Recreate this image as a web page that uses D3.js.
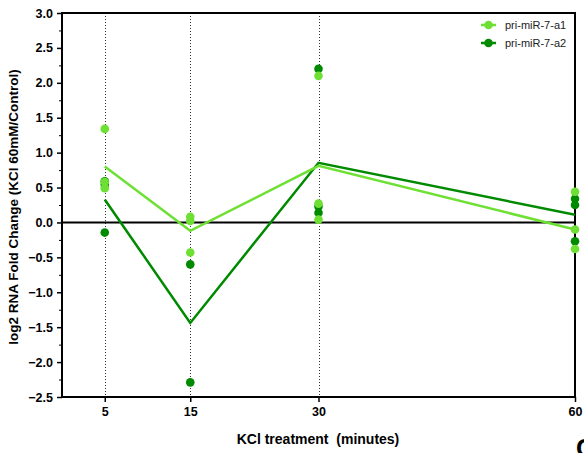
<!DOCTYPE html>
<html><head><meta charset="utf-8">
<script src="https://cdn.jsdelivr.net/npm/d3@7"></script>
<style>body{margin:0;background:#fff;} text{font-family:Arial,"Liberation Sans",sans-serif;}</style>
</head><body>
<svg id="c" width="584" height="453"></svg>
<script>
const timepoints = [5, 15, 30, 60];
const seriesNames = ["pri-miR-7-a1", "pri-miR-7-a2"];
const a1Reps = [[1.34, 0.58, 0.49], [0.08, 0.02, -0.43], [2.10, 0.27, 0.04], [0.44, -0.10, -0.38]];
const a2Reps = [[0.59, 0.54, -0.145], [-0.60, -2.29], [2.20, 0.23, 0.14], [0.34, 0.25, -0.27]];
const a1Mean = [0.80, -0.12, 0.81, -0.10];
const a2Mean = [0.33, -1.44, 0.855, 0.11];
const yTicks = [-2.5, -2.0, -1.5, -1.0, -0.5, 0.0, 0.5, 1.0, 1.5, 2.0, 2.5, 3.0];
const colors = ["#6ee034", "#008a00"];

const svg = d3.select("#c");
const L = 62, R = 575, T = 13, B = 397;
const x = d3.scaleLinear().domain([0, 60]).range([L, R]);
const y = d3.scaleLinear().domain([-2.5, 3]).range([B, T]);

// dotted verticals
svg.selectAll("line.vd").data(timepoints.slice(0, 3)).enter().append("line")
  .attr("x1", d => Math.round(x(d)) + 0.5).attr("x2", d => Math.round(x(d)) + 0.5)
  .attr("y1", T).attr("y2", B)
  .attr("stroke", "#333").attr("stroke-width", 1).attr("stroke-dasharray", "1,2");

// frame top and right
svg.append("line").attr("x1", L).attr("x2", R + 1).attr("y1", T).attr("y2", T).attr("stroke", "#000").attr("stroke-width", 2);
svg.append("line").attr("x1", R).attr("x2", R).attr("y1", T).attr("y2", B).attr("stroke", "#000").attr("stroke-width", 2);

// zero line
svg.append("line").attr("x1", L).attr("x2", R).attr("y1", y(0)).attr("y2", y(0)).attr("stroke", "#000").attr("stroke-width", 2);

// y axis
const yAxis = svg.append("g").attr("transform", `translate(${L},0)`)
  .call(d3.axisLeft(y).tickValues(yTicks).tickFormat(d3.format(".1f")).tickSize(5).tickSizeOuter(0));
const minor = d3.range(-2.25, 3, 0.5);
svg.append("g").attr("transform", `translate(${L},0)`)
  .call(d3.axisLeft(y).tickValues(minor).tickFormat("").tickSize(3).tickSizeOuter(0))
  .select(".domain").remove();
yAxis.select(".domain").attr("stroke-width", 2).attr("d", `M0,${T-1}V${B+1}`);
yAxis.selectAll(".tick line").attr("stroke-width", 1.5);
yAxis.selectAll("text").attr("font-size", 12.5).attr("font-weight", "bold").attr("fill", "#000").attr("dx", "-1px");

// x axis
const xAxis = svg.append("g").attr("transform", `translate(0,${B})`)
  .call(d3.axisBottom(x).tickValues(timepoints).tickSize(5).tickSizeOuter(0));
xAxis.select(".domain").attr("stroke-width", 2).attr("d", `M${L-1},0H${R+1}`);
xAxis.selectAll(".tick line").attr("stroke-width", 1.5);
xAxis.selectAll("text").attr("font-size", 12.5).attr("font-weight", "bold").attr("fill", "#000").attr("dy", "0.9em");

// series
const series = [
  {name: seriesNames[1], reps: a2Reps, mean: a2Mean, color: colors[1]},
  {name: seriesNames[0], reps: a1Reps, mean: a1Mean, color: colors[0]}
];
const line = d3.line().x((d, i) => x(timepoints[i])).y(d => y(d));
series.forEach(s => {
  svg.append("path").datum(s.mean).attr("d", line).attr("fill", "none")
    .attr("stroke", s.color).attr("stroke-width", 2.5);
});
series.forEach(s => {
  const pts = [];
  s.reps.forEach((arr, i) => arr.forEach(v => pts.push({t: timepoints[i], v})));
  svg.selectAll(null).data(pts).enter().append("circle")
    .attr("cx", d => x(d.t)).attr("cy", d => y(d.v)).attr("r", 4.3).attr("fill", s.color);
});

// legend
const leg = svg.append("g");
seriesNames.forEach((n, i) => {
  const yy = 25 + i * 18;
  leg.append("line").attr("x1", 481).attr("x2", 496).attr("y1", yy).attr("y2", yy).attr("stroke", colors[i]).attr("stroke-width", 2.5);
  leg.append("circle").attr("cx", 488.5).attr("cy", yy).attr("r", 4.3).attr("fill", colors[i]);
  leg.append("text").attr("x", 505).attr("y", yy + 4).attr("font-size", 11).attr("fill", "#222").text(n);
});

// titles
svg.append("text").attr("transform", `translate(18,${(T + B) / 2 + 2}) rotate(-90)`)
  .attr("text-anchor", "middle").attr("font-size", 13.5).attr("font-weight", "bold").text("log2 RNA Fold Change (KCl 60mM/Control)");
svg.append("text").attr("x", 318).attr("y", 444).attr("text-anchor", "middle").attr("font-size", 14)
  .attr("font-weight", "bold").style("white-space", "pre").text("KCl treatment  (minutes)");
svg.append("text").attr("x", 576).attr("y", 457).attr("font-size", 26).attr("font-weight", "bold").text("C");
</script>
</body></html>
